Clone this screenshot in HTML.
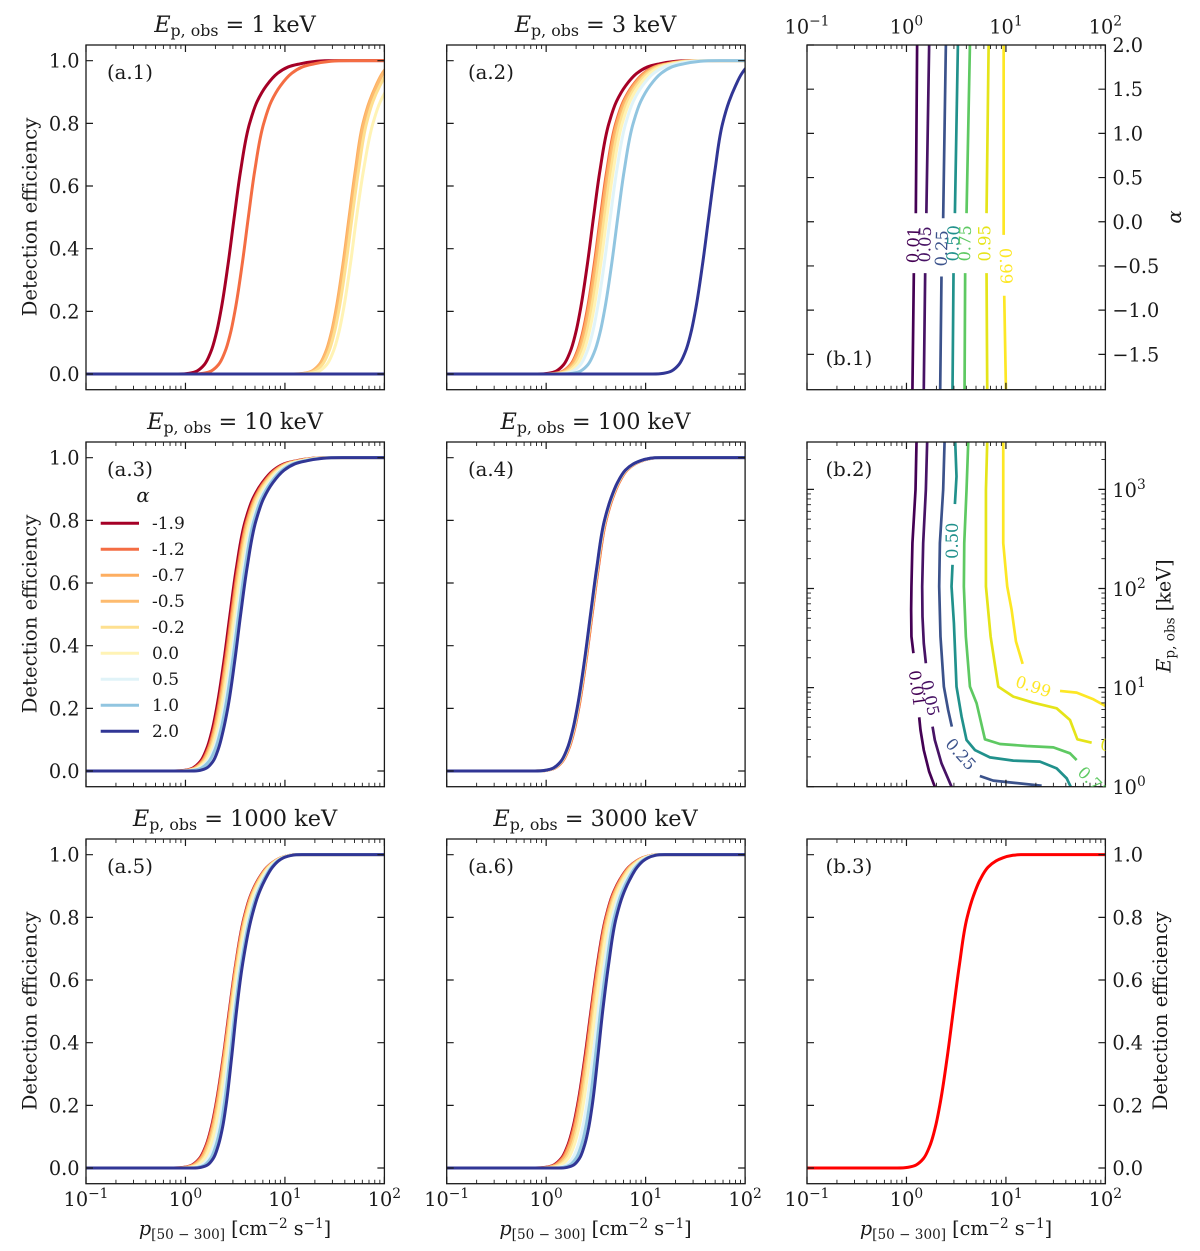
<!DOCTYPE html>
<html lang="en">
<head>
<meta charset="utf-8">
<title>Detection efficiency panels</title>
<style>
html,body{margin:0;padding:0;background:#fff;}
svg{display:block;}
text{font-family:"DejaVu Serif","Liberation Serif",serif;fill:#1a1a1a;}
.tick{font-size:19.3px;}
.title{font-size:22.4px;}
.axis{font-size:19.7px;}
.xl{font-size:19.2px;}
.tag{font-size:19.7px;}
.sub{font-size:13.6px;}
.title .sub{font-size:15.8px;}
.it{font-style:italic;}
.cl{font-size:16.3px;text-anchor:middle;dominant-baseline:central;}
</style>
</head>
<body>
<svg id="chart" width="1200" height="1251" viewBox="0 0 1200 1251" xmlns="http://www.w3.org/2000/svg">
  <rect x="0" y="0" width="1200" height="1251" fill="#fff"/>

  <g id="panel-a1"></g>
  <g id="panel-a2"></g>
  <g id="panel-a3"></g>
  <g id="panel-a4"></g>
  <g id="panel-a5"></g>
  <g id="panel-a6"></g>
  <g id="panel-b1"></g>
  <g id="panel-b2"></g>
  <g id="panel-b3"></g>

  <text class="title" x="235" y="32" text-anchor="middle"><tspan class="it">E</tspan><tspan class="sub" dy="4">p, obs</tspan><tspan dy="-4"> = 1 keV</tspan></text>
  <text class="title" x="595.5" y="32" text-anchor="middle"><tspan class="it">E</tspan><tspan class="sub" dy="4">p, obs</tspan><tspan dy="-4"> = 3 keV</tspan></text>
  <text class="title" x="235" y="429" text-anchor="middle"><tspan class="it">E</tspan><tspan class="sub" dy="4">p, obs</tspan><tspan dy="-4"> = 10 keV</tspan></text>
  <text class="title" x="595.5" y="429" text-anchor="middle"><tspan class="it">E</tspan><tspan class="sub" dy="4">p, obs</tspan><tspan dy="-4"> = 100 keV</tspan></text>
  <text class="title" x="235" y="826" text-anchor="middle"><tspan class="it">E</tspan><tspan class="sub" dy="4">p, obs</tspan><tspan dy="-4"> = 1000 keV</tspan></text>
  <text class="title" x="595.5" y="826" text-anchor="middle"><tspan class="it">E</tspan><tspan class="sub" dy="4">p, obs</tspan><tspan dy="-4"> = 3000 keV</tspan></text>

  <text class="axis" x="36.5" y="217" text-anchor="middle" transform="rotate(-90 36.5 217)">Detection efficiency</text>
  <text class="axis" x="36.5" y="614" text-anchor="middle" transform="rotate(-90 36.5 614)">Detection efficiency</text>
  <text class="axis" x="36.5" y="1011" text-anchor="middle" transform="rotate(-90 36.5 1011)">Detection efficiency</text>
  <text class="axis" x="1167" y="1011" text-anchor="middle" transform="rotate(-90 1167 1011)">Detection efficiency</text>
  <text class="axis it" x="1181" y="217" text-anchor="middle" transform="rotate(-90 1181 217)">α</text>
  <text class="xl" x="1170.5" y="616" text-anchor="middle" transform="rotate(-90 1170.5 616)"><tspan class="it">E</tspan><tspan class="sub" dy="4">p, obs</tspan><tspan dy="-4"> [keV]</tspan></text>

  <text class="xl" x="235" y="1235" text-anchor="middle"><tspan class="it">p</tspan><tspan class="sub" dy="4">[50 − 300]</tspan><tspan dy="-4"> [cm</tspan><tspan class="sub" dy="-7">−2</tspan><tspan dy="7"> s</tspan><tspan class="sub" dy="-7">−1</tspan><tspan dy="7">]</tspan></text>
  <text class="xl" x="595.5" y="1235" text-anchor="middle"><tspan class="it">p</tspan><tspan class="sub" dy="4">[50 − 300]</tspan><tspan dy="-4"> [cm</tspan><tspan class="sub" dy="-7">−2</tspan><tspan dy="7"> s</tspan><tspan class="sub" dy="-7">−1</tspan><tspan dy="7">]</tspan></text>
  <text class="xl" x="956" y="1235" text-anchor="middle"><tspan class="it">p</tspan><tspan class="sub" dy="4">[50 − 300]</tspan><tspan dy="-4"> [cm</tspan><tspan class="sub" dy="-7">−2</tspan><tspan dy="7"> s</tspan><tspan class="sub" dy="-7">−1</tspan><tspan dy="7">]</tspan></text>

  <text class="tag" x="107" y="79">(a.1)</text>
  <text class="tag" x="468" y="79">(a.2)</text>
  <text class="tag" x="107" y="476">(a.3)</text>
  <text class="tag" x="468" y="476">(a.4)</text>
  <text class="tag" x="107" y="873">(a.5)</text>
  <text class="tag" x="468" y="873">(a.6)</text>
  <text class="tag" x="825.5" y="365">(b.1)</text>
  <text class="tag" x="825.5" y="476">(b.2)</text>
  <text class="tag" x="825.5" y="873">(b.3)</text>

  <text class="axis it" x="143" y="502" text-anchor="middle">α</text>

  <g id="b1-contour-labels">
    <text class="cl" x="913.3" y="245" style="fill:#440154" transform="rotate(-88 913.3 245)">0.01</text>
    <text class="cl" x="925" y="244.3" style="fill:#471365" transform="rotate(-88 925 244.3)">0.05</text>
    <text class="cl" x="941.7" y="248.3" style="fill:#3b528b" transform="rotate(-88 941.7 248.3)">0.25</text>
    <text class="cl" x="953.3" y="243.3" style="fill:#21918c" transform="rotate(-88 953.3 243.3)">0.50</text>
    <text class="cl" x="965" y="243.3" style="fill:#5ec962" transform="rotate(-88 965 243.3)">0.75</text>
    <text class="cl" x="985" y="243.3" style="fill:#e5e419" transform="rotate(-90 985 243.3)">0.95</text>
    <text class="cl" x="1005.7" y="266" style="fill:#fde725" transform="rotate(88 1005.7 266)">0.99</text>
  </g>
  <g id="b2-contour-labels" clip-path="url(#clip-b2-labels)">
    <text class="cl" x="916.7" y="688.3" style="fill:#440154" transform="rotate(82 916.7 688.3)">0.01</text>
    <text class="cl" x="930" y="698" style="fill:#471365" transform="rotate(78 930 698)">0.05</text>
    <text class="cl" x="960.7" y="754.3" style="fill:#3b528b" transform="rotate(48 960.7 754.3)">0.25</text>
    <text class="cl" x="952.7" y="540.7" style="fill:#21918c" transform="rotate(-90 952.7 540.7)">0.50</text>
    <text class="cl" x="1093.3" y="782.3" style="fill:#5ec962" transform="rotate(45 1093.3 782.3)">0.75</text>
    <text class="cl" x="1118.3" y="747.3" style="fill:#e5e419" transform="rotate(10 1118.3 747.3)">0.95</text>
    <text class="cl" x="1033.3" y="686.7" style="fill:#fde725" transform="rotate(18 1033.3 686.7)">0.99</text>
  </g>
</svg>

<script>
// ---------- shared axis values ----------
const xTickExponents = [-1, 0, 1, 2];
const xTickLabels = ['−1', '0', '1', '2'];
const effTicks = [0, 0.2, 0.4, 0.6, 0.8, 1.0];
const effTickLabels = ['0.0', '0.2', '0.4', '0.6', '0.8', '1.0'];
const alphaTicks = [-1.5, -1.0, -0.5, 0.0, 0.5, 1.0, 1.5, 2.0];
const alphaTickLabels = ['−1.5', '−1.0', '−0.5', '0.0', '0.5', '1.0', '1.5', '2.0'];
const energyTickExponents = [0, 1, 2, 3];
const energyTickLabels = ['0', '1', '2', '3'];
const alphaLegend = ['-1.9', '-1.2', '-0.7', '-0.5', '-0.2', '0.0', '0.5', '1.0', '2.0'];

// ---------- efficiency levels shared by all curves; each curve gives log10(p) at each level ----------
const effLevels = [0, 0, 0.002, 0.01, 0.03, 0.07, 0.13, 0.2, 0.35, 0.5, 0.65, 0.8, 0.87, 0.92, 0.96, 0.98, 0.99, 0.998, 1, 1];

// panel a.1 (1 keV)
const a1_m19 = [-1, -0.09, 0.03, 0.118, 0.19, 0.254, 0.31, 0.355, 0.428, 0.49, 0.555, 0.645, 0.721, 0.813, 0.927, 1.033, 1.154, 1.32, 1.54, 2];
const a1_m12 = [-1, 0.052, 0.172, 0.26, 0.332, 0.396, 0.452, 0.497, 0.57, 0.632, 0.697, 0.787, 0.863, 0.955, 1.069, 1.175, 1.296, 1.462, 1.682, 2];
const a1_m07 = [-1, 1.065, 1.185, 1.273, 1.345, 1.409, 1.465, 1.51, 1.583, 1.645, 1.708, 1.785, 1.85, 1.915, 1.98, 2.03, 2.095, 2.195, 2.385, 2.6];
const a1_m05 = [-1, 1.075, 1.195, 1.283, 1.355, 1.419, 1.475, 1.52, 1.593, 1.655, 1.718, 1.795, 1.86, 1.925, 1.99, 2.04, 2.105, 2.205, 2.395, 2.6];
const a1_m02 = [-1, 1.095, 1.215, 1.303, 1.375, 1.439, 1.495, 1.54, 1.613, 1.675, 1.74, 1.82, 1.885, 1.955, 2.03, 2.09, 2.16, 2.26, 2.46, 2.6];
const a1_p00 = [-1, 1.14, 1.26, 1.348, 1.42, 1.484, 1.54, 1.585, 1.658, 1.72, 1.79, 1.885, 1.96, 2.05, 2.15, 2.22, 2.3, 2.4, 2.6, 3];
const a1_p05 = [-1, 3];
const a1_p10 = [-1, 3];
const a1_p20 = [-1, 3];

// panel a.2 (3 keV)
const a2_m19 = [-1, -0.104, 0.016, 0.104, 0.176, 0.24, 0.296, 0.341, 0.414, 0.476, 0.541, 0.631, 0.707, 0.799, 0.913, 1.019, 1.14, 1.306, 1.526, 2];
const a2_m12 = [-1, -0.035, 0.085, 0.173, 0.245, 0.309, 0.365, 0.41, 0.483, 0.545, 0.61, 0.70, 0.776, 0.868, 0.982, 1.088, 1.209, 1.375, 1.595, 2];
const a2_m07 = [-1, -0.025, 0.095, 0.183, 0.255, 0.319, 0.375, 0.42, 0.493, 0.555, 0.62, 0.71, 0.786, 0.878, 0.992, 1.098, 1.219, 1.385, 1.605, 2];
const a2_m05 = [-1, -0.01, 0.11, 0.198, 0.27, 0.334, 0.39, 0.435, 0.508, 0.57, 0.635, 0.725, 0.801, 0.893, 1.007, 1.113, 1.234, 1.40, 1.62, 2];
const a2_m02 = [-1, 0.005, 0.125, 0.213, 0.285, 0.349, 0.405, 0.45, 0.523, 0.585, 0.65, 0.74, 0.816, 0.908, 1.022, 1.128, 1.249, 1.415, 1.635, 2];
const a2_p00 = [-1, 0.03, 0.15, 0.238, 0.31, 0.374, 0.43, 0.475, 0.548, 0.61, 0.675, 0.765, 0.841, 0.933, 1.047, 1.153, 1.274, 1.44, 1.66, 2];
const a2_p05 = [-1, 0.065, 0.185, 0.273, 0.345, 0.409, 0.465, 0.51, 0.583, 0.645, 0.71, 0.80, 0.876, 0.968, 1.082, 1.188, 1.309, 1.475, 1.695, 2];
const a2_p10 = [-1, 0.14, 0.26, 0.348, 0.42, 0.484, 0.54, 0.585, 0.658, 0.72, 0.785, 0.875, 0.951, 1.043, 1.157, 1.263, 1.384, 1.55, 1.77, 2];
const a2_p20 = [-1, 1.054, 1.174, 1.262, 1.334, 1.398, 1.454, 1.499, 1.572, 1.634, 1.697, 1.774, 1.839, 1.904, 1.969, 2.02, 2.08, 2.18, 2.37, 2.6];

// panel a.3 (10 keV)
const a3_m19 = [-1, -0.132, -0.012, 0.076, 0.148, 0.212, 0.268, 0.313, 0.386, 0.448, 0.513, 0.603, 0.679, 0.771, 0.885, 0.991, 1.112, 1.278, 1.498, 2];
const a3_m12 = [-1, -0.118, 0.002, 0.09, 0.162, 0.226, 0.282, 0.327, 0.40, 0.462, 0.527, 0.617, 0.693, 0.785, 0.899, 1.005, 1.126, 1.292, 1.512, 2];
const a3_m07 = [-1, -0.108, 0.012, 0.10, 0.172, 0.236, 0.292, 0.337, 0.41, 0.472, 0.537, 0.627, 0.703, 0.795, 0.909, 1.015, 1.136, 1.302, 1.522, 2];
const a3_m05 = [-1, -0.102, 0.018, 0.106, 0.178, 0.242, 0.298, 0.343, 0.416, 0.478, 0.543, 0.633, 0.709, 0.801, 0.915, 1.021, 1.142, 1.308, 1.528, 2];
const a3_m02 = [-1, -0.092, 0.028, 0.116, 0.188, 0.252, 0.308, 0.353, 0.426, 0.488, 0.553, 0.643, 0.719, 0.811, 0.925, 1.031, 1.152, 1.318, 1.538, 2];
const a3_p00 = [-1, -0.08, 0.04, 0.128, 0.20, 0.264, 0.32, 0.365, 0.438, 0.50, 0.565, 0.655, 0.731, 0.823, 0.937, 1.043, 1.164, 1.33, 1.55, 2];
const a3_p05 = [-1, -0.06, 0.06, 0.148, 0.22, 0.284, 0.34, 0.385, 0.458, 0.52, 0.585, 0.675, 0.751, 0.843, 0.957, 1.063, 1.184, 1.35, 1.57, 2];
const a3_p10 = [-1, -0.045, 0.075, 0.163, 0.235, 0.299, 0.355, 0.40, 0.473, 0.535, 0.60, 0.69, 0.766, 0.858, 0.972, 1.078, 1.199, 1.365, 1.585, 2];
const a3_p20 = [-1, 0.055, 0.145, 0.215, 0.275, 0.33, 0.38, 0.425, 0.495, 0.555, 0.62, 0.71, 0.786, 0.878, 0.992, 1.098, 1.219, 1.385, 1.605, 2];

// panel a.4 (100 keV)
const a4_m19 = [-1, -0.12, 0, 0.088, 0.16, 0.224, 0.28, 0.325, 0.398, 0.46, 0.523, 0.60, 0.665, 0.73, 0.81, 0.89, 0.96, 1.06, 1.20, 2];
const a4_m12 = [-1, -0.118, 0.002, 0.09, 0.162, 0.226, 0.282, 0.327, 0.40, 0.462, 0.525, 0.602, 0.667, 0.732, 0.812, 0.892, 0.962, 1.062, 1.202, 2];
const a4_m07 = [-1, -0.124, -0.004, 0.084, 0.156, 0.22, 0.276, 0.321, 0.394, 0.456, 0.519, 0.596, 0.661, 0.726, 0.806, 0.886, 0.956, 1.056, 1.196, 2];
const a4_m05 = [-1, -0.126, -0.006, 0.082, 0.154, 0.218, 0.274, 0.319, 0.392, 0.454, 0.517, 0.594, 0.659, 0.724, 0.804, 0.884, 0.954, 1.054, 1.194, 2];
const a4_m02 = [-1, -0.128, -0.008, 0.08, 0.152, 0.216, 0.272, 0.317, 0.39, 0.452, 0.515, 0.592, 0.657, 0.722, 0.802, 0.882, 0.952, 1.052, 1.192, 2];
const a4_p00 = [-1, -0.13, -0.01, 0.078, 0.15, 0.214, 0.27, 0.315, 0.388, 0.45, 0.513, 0.59, 0.655, 0.72, 0.80, 0.88, 0.95, 1.05, 1.19, 2];
const a4_p05 = [-1, -0.131, -0.011, 0.077, 0.149, 0.213, 0.269, 0.314, 0.387, 0.449, 0.512, 0.589, 0.654, 0.719, 0.799, 0.879, 0.949, 1.049, 1.189, 2];
const a4_p10 = [-1, -0.132, -0.012, 0.076, 0.148, 0.212, 0.268, 0.313, 0.386, 0.448, 0.511, 0.588, 0.653, 0.718, 0.798, 0.878, 0.948, 1.048, 1.188, 2];
const a4_p20 = [-1, -0.134, -0.014, 0.074, 0.146, 0.21, 0.266, 0.311, 0.384, 0.446, 0.509, 0.586, 0.651, 0.716, 0.796, 0.876, 0.946, 1.046, 1.186, 2];

// panel a.5 (1000 keV)
const a5_m19 = [-1, -0.14, -0.02, 0.068, 0.14, 0.204, 0.26, 0.305, 0.378, 0.44, 0.505, 0.59, 0.655, 0.73, 0.82, 0.90, 0.96, 1.05, 1.18, 2];
const a5_m12 = [-1, -0.129, -0.011, 0.076, 0.147, 0.21, 0.266, 0.31, 0.382, 0.444, 0.508, 0.594, 0.659, 0.734, 0.823, 0.902, 0.961, 1.051, 1.18, 2];
const a5_m07 = [-1, -0.114, 0.001, 0.087, 0.157, 0.219, 0.274, 0.317, 0.388, 0.449, 0.513, 0.599, 0.664, 0.738, 0.827, 0.904, 0.963, 1.052, 1.181, 2];
const a5_m05 = [-1, -0.104, 0.009, 0.094, 0.163, 0.225, 0.279, 0.323, 0.392, 0.452, 0.517, 0.603, 0.668, 0.742, 0.829, 0.906, 0.964, 1.053, 1.182, 2];
const a5_m02 = [-1, -0.082, 0.027, 0.11, 0.177, 0.237, 0.29, 0.333, 0.401, 0.46, 0.524, 0.61, 0.675, 0.749, 0.835, 0.909, 0.967, 1.055, 1.183, 2];
const a5_p00 = [-1, -0.059, 0.046, 0.127, 0.192, 0.251, 0.303, 0.344, 0.41, 0.468, 0.531, 0.618, 0.684, 0.757, 0.841, 0.913, 0.97, 1.058, 1.184, 2];
const a5_p05 = [-1, -0.008, 0.087, 0.164, 0.226, 0.281, 0.33, 0.369, 0.431, 0.485, 0.548, 0.637, 0.702, 0.773, 0.854, 0.922, 0.976, 1.062, 1.186, 2];
const a5_p10 = [-1, 0.033, 0.12, 0.194, 0.252, 0.304, 0.352, 0.388, 0.447, 0.499, 0.561, 0.651, 0.716, 0.787, 0.865, 0.928, 0.98, 1.066, 1.188, 2];
const a5_p20 = [-1, 0.073, 0.153, 0.223, 0.278, 0.328, 0.373, 0.408, 0.463, 0.513, 0.574, 0.665, 0.73, 0.80, 0.875, 0.935, 0.985, 1.07, 1.19, 2];

// panel a.6 (3000 keV)
const a6_m19 = [-1, -0.13, -0.01, 0.078, 0.15, 0.214, 0.27, 0.315, 0.388, 0.45, 0.515, 0.60, 0.665, 0.74, 0.83, 0.91, 0.97, 1.06, 1.19, 2];
const a6_m12 = [-1, -0.117, 0.001, 0.088, 0.159, 0.222, 0.278, 0.322, 0.395, 0.456, 0.521, 0.605, 0.67, 0.745, 0.834, 0.913, 0.973, 1.062, 1.19, 2];
const a6_m07 = [-1, -0.099, 0.016, 0.102, 0.172, 0.234, 0.289, 0.333, 0.404, 0.464, 0.529, 0.613, 0.678, 0.752, 0.84, 0.918, 0.977, 1.065, 1.191, 2];
const a6_m05 = [-1, -0.086, 0.027, 0.112, 0.181, 0.243, 0.297, 0.34, 0.41, 0.47, 0.534, 0.618, 0.683, 0.757, 0.844, 0.921, 0.979, 1.067, 1.192, 2];
const a6_m02 = [-1, -0.06, 0.049, 0.132, 0.199, 0.26, 0.313, 0.355, 0.423, 0.482, 0.546, 0.628, 0.693, 0.767, 0.853, 0.928, 0.985, 1.071, 1.193, 2];
const a6_p00 = [-1, -0.032, 0.073, 0.154, 0.22, 0.278, 0.33, 0.371, 0.437, 0.495, 0.558, 0.64, 0.705, 0.778, 0.862, 0.935, 0.991, 1.075, 1.194, 2];
const a6_p05 = [-1, 0.03, 0.125, 0.202, 0.263, 0.319, 0.368, 0.407, 0.469, 0.523, 0.585, 0.665, 0.73, 0.802, 0.883, 0.95, 1.004, 1.085, 1.196, 2];
const a6_p10 = [-1, 0.079, 0.167, 0.24, 0.298, 0.351, 0.398, 0.435, 0.493, 0.546, 0.607, 0.685, 0.75, 0.821, 0.899, 0.963, 1.015, 1.092, 1.198, 2];
const a6_p20 = [-1, 0.128, 0.208, 0.278, 0.333, 0.383, 0.428, 0.463, 0.518, 0.568, 0.628, 0.705, 0.77, 0.84, 0.915, 0.975, 1.025, 1.10, 1.2, 2];

// panel b.3 marginal curve
const b3_curve = [-1, -0.11, 0.01, 0.098, 0.17, 0.234, 0.29, 0.335, 0.408, 0.47, 0.533, 0.61, 0.675, 0.74, 0.82, 0.90, 0.97, 1.07, 1.15, 2];

// panel b.1 contours: log10(p) against alpha (null = gap for the label)
const b1_levels = ['0.01', '0.05', '0.25', '0.50', '0.75', '0.95', '0.99'];
const b1_x_001 = [0.107, 0.094, null, 0.074, 0.06];
const b1_y_001 = [2, 0.097, null, -0.581, -1.9];
const b1_x_005 = [0.228, 0.2, null, 0.188, 0.174];
const b1_y_005 = [2, 0.097, null, -0.581, -1.9];
const b1_x_025 = [0.396, 0.369, null, 0.352, 0.339];
const b1_y_025 = [2, 0.04, null, -0.619, -1.9];
const b1_x_050 = [0.517, 0.487, null, 0.473, 0.463];
const b1_y_050 = [2, 0.097, null, -0.581, -1.9];
const b1_x_075 = [0.638, 0.604, null, 0.59, 0.584];
const b1_y_075 = [2, 0.097, null, -0.581, -1.9];
const b1_x_095 = [0.826, 0.805, null, 0.805, 0.812];
const b1_y_095 = [2, 0.097, null, -0.581, -1.9];
const b1_x_099 = [0.977, 0.977, null, 0.983, 1.0];
const b1_y_099 = [2, -0.148, null, -0.837, -1.9];

// panel b.2 contours: log10(p) against log10(E_p,obs)
const b2_x_001 = [0.101, 0.091, 0.06, 0.05, 0.047, 0.05, 0.07, null, 0.128, 0.141, 0.174, 0.228, 0.285];
const b2_y_001 = [3.478, 2.997, 2.458, 2.02, 1.785, 1.515, 1.347, null, 0.7, 0.572, 0.37, 0.152, 0];
const b2_x_005 = [0.208, 0.195, 0.168, 0.158, 0.161, 0.174, 0.195, null, 0.262, 0.285, 0.352, 0.453];
const b2_y_005 = [3.478, 2.997, 2.458, 2.02, 1.717, 1.448, 1.246, null, 0.606, 0.471, 0.236, 0];
const b2_x_025 = [0.383, 0.369, 0.336, 0.329, 0.342, 0.376, 0.419, 0.456, null, 0.738, 0.872, 1.074, 1.359];
const b2_y_025 = [3.478, 2.997, 2.458, 2.02, 1.515, 1.01, 0.774, 0.606, null, 0.108, 0.061, 0.04, 0.01];
const b2_x_050 = [0.49, 0.503, 0.487, null, 0.463, 0.453, 0.477, 0.503, 0.554, 0.604, 0.688, 0.839, 1.074, 1.342, 1.51, 1.611, 1.651];
const b2_y_050 = [3.478, 3.131, 2.852, null, 2.239, 2.02, 1.65, 1.01, 0.707, 0.471, 0.37, 0.296, 0.263, 0.253, 0.185, 0.084, 0];
const b2_x_075 = [0.621, 0.604, 0.581, 0.577, 0.597, 0.638, 0.705, 0.789, 0.94, 1.208, 1.477, 1.644, 1.711];
const b2_y_075 = [3.478, 2.997, 2.458, 2.02, 1.515, 1.01, 0.842, 0.478, 0.431, 0.411, 0.397, 0.337, 0.269];
const b2_x_095 = [0.812, 0.799, 0.799, 0.846, 0.923, 1.074, 1.275, 1.51, 1.644, 1.718, 1.862];
const b2_y_095 = [3.478, 2.997, 2.02, 1.515, 1.01, 0.909, 0.848, 0.791, 0.673, 0.478, 0.444];
const b2_x_099 = [0.973, 0.973, 1.013, 1.057, 1.101, 1.168, null, 1.544, 1.711, 1.879, 2.0];
const b2_y_099 = [3.478, 2.458, 2.02, 1.785, 1.465, 1.239, null, 0.966, 0.949, 0.882, 0.815];

// ---------- styling (not data) ----------
const alphaColors = ['#a50026', '#f46d43', '#fdae61', '#fdbb6f', '#fee090', '#fff3b5', '#e0f3f8', '#91c5e0', '#313695'];
const contourColors = ['#440154', '#471365', '#3b528b', '#21918c', '#5ec962', '#e5e419', '#fde725'];
const NS = 'http://www.w3.org/2000/svg';
const svgRoot = document.getElementById('chart');
const COLS = [86, 446.7, 807];
const ROWS = [45, 442, 839];
const PW = 298.4;
const PH = 344.7;
const INK = '#1a1a1a';

function mk(tag, attrs, parent) {
  const n = document.createElementNS(NS, tag);
  for (const k in attrs) n.setAttribute(k, attrs[k]);
  parent.appendChild(n);
  return n;
}
function box(col, row) {
  return { x: COLS[col], y: ROWS[row], w: PW, h: PH };
}
function xLog(b, logP) { return b.x + (logP + 1) / 3 * b.w; }
function yEff(b, e) { return b.y + (1.05 - e) / 1.1 * b.h; }
function yAlpha(b, a) { return b.y + (2 - a) / 3.9 * b.h; }
function yEnergy(b, logE) { return b.y + b.h - logE / 3.478 * b.h; }

// Chord-parametrised smooth spline; first and last segments are straight (the flat tails)
function smoothPath(pts) {
  const n = pts.length;
  const fmt = p => p[0].toFixed(2) + ' ' + p[1].toFixed(2);
  if (n < 4) return 'M' + pts.map(fmt).join('L');
  const seg = [];
  for (let i = 0; i < n - 1; i++) {
    seg[i] = Math.hypot(pts[i + 1][0] - pts[i][0], pts[i + 1][1] - pts[i][1]) || 1e-6;
  }
  const tan = [];
  tan[1] = [1, 0];
  tan[n - 2] = [1, 0];
  for (let i = 2; i < n - 2; i++) {
    const u0 = [(pts[i][0] - pts[i - 1][0]) / seg[i - 1], (pts[i][1] - pts[i - 1][1]) / seg[i - 1]];
    const u1 = [(pts[i + 1][0] - pts[i][0]) / seg[i], (pts[i + 1][1] - pts[i][1]) / seg[i]];
    const s = seg[i - 1] + seg[i];
    tan[i] = [(u0[0] * seg[i] + u1[0] * seg[i - 1]) / s, (u0[1] * seg[i] + u1[1] * seg[i - 1]) / s];
  }
  let d = 'M' + fmt(pts[0]) + 'L' + fmt(pts[1]);
  for (let i = 1; i < n - 2; i++) {
    const L = seg[i] / 3;
    d += 'C' + (pts[i][0] + tan[i][0] * L).toFixed(2) + ' ' + (pts[i][1] + tan[i][1] * L).toFixed(2) + ' ' +
      (pts[i + 1][0] - tan[i + 1][0] * L).toFixed(2) + ' ' + (pts[i + 1][1] - tan[i + 1][1] * L).toFixed(2) + ' ' +
      fmt(pts[i + 1]);
  }
  d += 'L' + fmt(pts[n - 1]);
  return d;
}

function addClip(id, b) {
  const cp = mk('clipPath', { id: id }, svgRoot);
  
  
  const r = mk('rect', { x: b.x, y: b.y, width: b.w, height: b.h }, cp);
  
  
}

function drawCurve(g, b, series, color, width) {
  const pts = series.map((lp, i) => [xLog(b, lp), yEff(b, effLevels[i])]);
  return mk('path', { d: smoothPath(pts), fill: 'none', stroke: color, 'stroke-width': width, 'stroke-linejoin': 'round' }, g);
}

function drawContour(g, b, xs, ys, yFn, color) {
  let d = '', pen = false;
  xs.forEach((x, i) => {
    if (x === null) { pen = false; return; }
    d += (pen ? 'L' : 'M') + xLog(b, x).toFixed(2) + ' ' + yFn(b, ys[i]).toFixed(2);
    pen = true;
  });
  return mk('path', { d: d, fill: 'none', stroke: color, 'stroke-width': 2.7, 'stroke-linejoin': 'round' }, g);
}

// Frame, ticks on all four sides
function drawFrame(parent, b, yMajorPx, yMinorPx) {
  const majorLen = 7, minorLen = 4;
  let major = '', minor = '';
  xTickExponents.forEach((e, i) => {
    const x = xLog(b, e);
    major += 'M' + x + ' ' + b.y + 'v' + majorLen + 'M' + x + ' ' + (b.y + b.h) + 'v' + (-majorLen);
    if (i < xTickExponents.length - 1) {
      for (let k = 2; k <= 9; k++) {
        const xm = xLog(b, e + Math.log10(k));
        minor += 'M' + xm + ' ' + b.y + 'v' + minorLen + 'M' + xm + ' ' + (b.y + b.h) + 'v' + (-minorLen);
      }
    }
  });
  yMajorPx.forEach(y => { major += 'M' + b.x + ' ' + y + 'h' + majorLen + 'M' + (b.x + b.w) + ' ' + y + 'h' + (-majorLen); });
  yMinorPx.forEach(y => { minor += 'M' + b.x + ' ' + y + 'h' + minorLen + 'M' + (b.x + b.w) + ' ' + y + 'h' + (-minorLen); });
  const majorTicks = mk('path', { d: major, stroke: INK, 'stroke-width': 1.2, fill: 'none' }, parent);
  
  
  const minorTicks = mk('path', { d: minor, stroke: INK, 'stroke-width': 0.9, fill: 'none' }, parent);
  
  
  const frame = mk('rect', { x: b.x, y: b.y, width: b.w, height: b.h, fill: 'none', stroke: INK, 'stroke-width': 1.3 }, parent);
  
  
}

function powerLabel(parent, x, y, exponent, anchor) {
  const t = mk('text', { x: x, y: y, 'text-anchor': anchor, class: 'tick' }, parent);
  t.appendChild(document.createTextNode('10'));
  const s = mk('tspan', { dy: -8, 'font-size': 13.8 }, t);
  s.textContent = exponent;
  return t;
}
function xPowerLabels(parent, b, y) {
  xTickExponents.forEach((e, i) => {
    const t = powerLabel(parent, xLog(b, e), y, xTickLabels[i], 'middle');
    
    
  });
}
function yEffLabelsLeft(parent, b) {
  effTicks.forEach((v, i) => {
    const t = mk('text', { x: b.x - 6.5, y: yEff(b, v) + 7, 'text-anchor': 'end', class: 'tick' }, parent);
    t.textContent = effTickLabels[i];
    
    
  });
}

// ---------- panels a.1 - a.6 ----------
const a1Series = [a1_m19, a1_m12, a1_m07, a1_m05, a1_m02, a1_p00, a1_p05, a1_p10, a1_p20];
const a2Series = [a2_m19, a2_m12, a2_m07, a2_m05, a2_m02, a2_p00, a2_p05, a2_p10, a2_p20];
const a3Series = [a3_m19, a3_m12, a3_m07, a3_m05, a3_m02, a3_p00, a3_p05, a3_p10, a3_p20];
const a4Series = [a4_m19, a4_m12, a4_m07, a4_m05, a4_m02, a4_p00, a4_p05, a4_p10, a4_p20];
const a5Series = [a5_m19, a5_m12, a5_m07, a5_m05, a5_m02, a5_p00, a5_p05, a5_p10, a5_p20];
const a6Series = [a6_m19, a6_m12, a6_m07, a6_m05, a6_m02, a6_p00, a6_p05, a6_p10, a6_p20];
const aPanels = [
  { id: 'a1', col: 0, row: 0, series: a1Series },
  { id: 'a2', col: 1, row: 0, series: a2Series },
  { id: 'a3', col: 0, row: 1, series: a3Series },
  { id: 'a4', col: 1, row: 1, series: a4Series },
  { id: 'a5', col: 0, row: 2, series: a5Series },
  { id: 'a6', col: 1, row: 2, series: a6Series }
];
aPanels.forEach(p => {
  const b = box(p.col, p.row);
  const parent = document.getElementById('panel-' + p.id);
  addClip('clip-' + p.id, b);
  const g = mk('g', { 'clip-path': 'url(#clip-' + p.id + ')' }, parent);
  
  
  p.series.forEach((s, i) => {
    const c = drawCurve(g, b, s, alphaColors[i], 3);
    
    
  });
  drawFrame(parent, b, effTicks.map(v => yEff(b, v)), []);
  if (p.col === 0) yEffLabelsLeft(parent, b);
  if (p.row === 2) xPowerLabels(parent, b, 1206);
});

// ---------- legend in a.3 ----------
const legendGroup = mk('g', {}, document.getElementById('panel-a3'));


alphaLegend.forEach((lab, i) => {
  const y = 523.2 + i * 26;
  const swatch = mk('line', { x1: 100.7, x2: 139, y1: y, y2: y, stroke: alphaColors[i], 'stroke-width': 3 }, legendGroup);
  
  
  const t = mk('text', { x: 152, y: y + 6, 'font-size': 17 }, legendGroup);
  t.textContent = lab;
  
  
});

// ---------- panel b.1 ----------
const b1Pairs = [[b1_x_001, b1_y_001], [b1_x_005, b1_y_005], [b1_x_025, b1_y_025], [b1_x_050, b1_y_050], [b1_x_075, b1_y_075], [b1_x_095, b1_y_095], [b1_x_099, b1_y_099]];
(function () {
  const b = box(2, 0);
  const parent = document.getElementById('panel-b1');
  addClip('clip-b1', b);
  const g = mk('g', { 'clip-path': 'url(#clip-b1)' }, parent);
  
  
  b1Pairs.forEach((pair, i) => {
    const c = drawContour(g, b, pair[0], pair[1], yAlpha, contourColors[i]);
    
    
  });
  drawFrame(parent, b, alphaTicks.map(v => yAlpha(b, v)), []);
  xPowerLabels(parent, b, 33.5);
  alphaTicks.forEach((v, i) => {
    const t = mk('text', { x: b.x + b.w + 7, y: yAlpha(b, v) + 7, class: 'tick' }, parent);
    t.textContent = alphaTickLabels[i];
    
    
  });
})();

// ---------- panel b.2 ----------
const b2Pairs = [[b2_x_001, b2_y_001], [b2_x_005, b2_y_005], [b2_x_025, b2_y_025], [b2_x_050, b2_y_050], [b2_x_075, b2_y_075], [b2_x_095, b2_y_095], [b2_x_099, b2_y_099]];
(function () {
  const b = box(2, 1);
  const parent = document.getElementById('panel-b2');
  addClip('clip-b2', b);
  addClip('clip-b2-labels', b);
  const g = mk('g', { 'clip-path': 'url(#clip-b2)' }, parent);
  
  
  b2Pairs.forEach((pair, i) => {
    const c = drawContour(g, b, pair[0], pair[1], yEnergy, contourColors[i]);
    
    
  });
  const majors = energyTickExponents.map(e => yEnergy(b, e));
  const minors = [];
  energyTickExponents.forEach(e => {
    for (let k = 2; k <= 9; k++) {
      const v = e + Math.log10(k);
      if (v < 3.478) minors.push(yEnergy(b, v));
    }
  });
  drawFrame(parent, b, majors, minors);
  energyTickExponents.forEach((e, i) => {
    const t = powerLabel(parent, b.x + b.w + 7, yEnergy(b, e) + 7.5, energyTickLabels[i], 'start');
    
    
  });
})();

// ---------- panel b.3 ----------
(function () {
  const b = box(2, 2);
  const parent = document.getElementById('panel-b3');
  addClip('clip-b3', b);
  const g = mk('g', { 'clip-path': 'url(#clip-b3)' }, parent);
  
  
  const c = drawCurve(g, b, b3_curve, '#ff0000', 3);
  
  
  drawFrame(parent, b, effTicks.map(v => yEff(b, v)), []);
  xPowerLabels(parent, b, 1206);
  effTicks.forEach((v, i) => {
    const t = mk('text', { x: b.x + b.w + 7, y: yEff(b, v) + 7, class: 'tick' }, parent);
    t.textContent = effTickLabels[i];
    
    
  });
})();
</script>
</body>
</html>
